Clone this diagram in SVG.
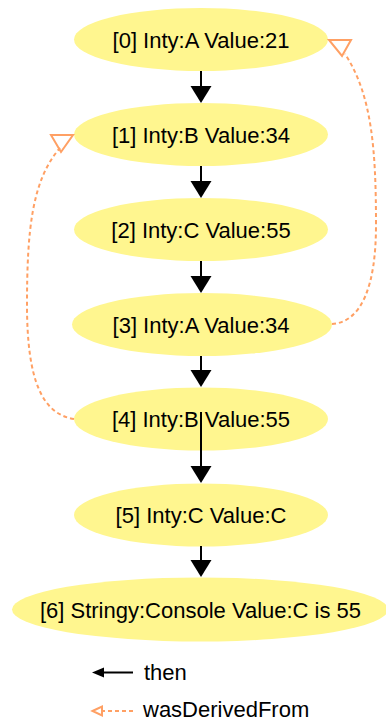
<svg xmlns="http://www.w3.org/2000/svg" width="386" height="721" viewBox="0 0 386 721">
  <style>
    .node ellipse { fill: #fff68f; stroke: none; }
    .node text { font-family: "Liberation Sans", Arial, sans-serif; font-size: 22px; fill: #000; text-anchor: middle; }
    .then { stroke: #000; stroke-width: 2; fill: none; }
    .derived { stroke: #ffa064; stroke-width: 2; stroke-dasharray: 4 3; fill: none; }
    .open-head { stroke: #ffa064; stroke-width: 2; fill: none; stroke-linejoin: miter; }
    .legend text { font-family: "Liberation Sans", Arial, sans-serif; font-size: 22px; fill: #000; }
  </style>
  <defs>
    <marker id="solid" markerUnits="userSpaceOnUse" markerWidth="18" markerHeight="22" refX="0" refY="10.5" orient="auto" overflow="visible">
      <path d="M0,0 L17,10.5 L0,21 Z" fill="#000"/>
    </marker>
  </defs>

  <rect width="386" height="721" fill="#fff"/>

  <!-- nodes -->
  <g id="n0" class="node">
    <ellipse cx="201" cy="39.5" rx="127" ry="31.5"/>
    <text x="201" y="47.5">[0] Inty:A Value:21</text>
  </g>
  <g id="n1" class="node">
    <ellipse cx="201" cy="134.5" rx="127" ry="31.5"/>
    <text x="201" y="142.5">[1] Inty:B Value:34</text>
  </g>
  <g id="n2" class="node">
    <ellipse cx="201" cy="229.5" rx="127" ry="31.5"/>
    <text x="201" y="237.5">[2] Inty:C Value:55</text>
  </g>
  <g id="n3" class="node">
    <ellipse cx="202" cy="324.5" rx="130" ry="31.5"/>
    <text x="201" y="332.5">[3] Inty:A Value:34</text>
  </g>
  <g id="n4" class="node">
    <ellipse cx="201" cy="419" rx="127" ry="31.5"/>
    <text x="201" y="427">[4] Inty:B Value:55</text>
  </g>
  <g id="n5" class="node">
    <ellipse cx="201" cy="515" rx="127" ry="31.5"/>
    <text x="201" y="523">[5] Inty:C Value:C</text>
  </g>
  <g id="n6" class="node">
    <ellipse cx="200" cy="609.5" rx="188" ry="32"/>
    <text x="200.5" y="617.5">[6] Stringy:Console Value:C is 55</text>
  </g>

  <!-- connectors -->
  <g id="edges">
    <line class="then" x1="201" y1="71" x2="201" y2="86" marker-end="url(#solid)"/>
    <line class="then" x1="201" y1="166" x2="201" y2="181" marker-end="url(#solid)"/>
    <line class="then" x1="201" y1="261" x2="201" y2="276" marker-end="url(#solid)"/>
    <line class="then" x1="201" y1="356" x2="201" y2="370" marker-end="url(#solid)"/>
    <line class="then" x1="201" y1="412" x2="201" y2="466" marker-end="url(#solid)"/>
    <line class="then" x1="201" y1="546" x2="201" y2="560" marker-end="url(#solid)"/>

    <!-- [3] wasDerivedFrom [0] -->
    <path class="derived" d="M332,324 C362,322 376,285 376,225 C376,150 372,95 345,54"/>
    <polygon class="open-head" points="329,40 351,40 342,56"/>

    <!-- [4] wasDerivedFrom [1] -->
    <path class="derived" d="M74,419 C42,414 27,380 27,305 C27,230 32,180 60,148"/>
    <polygon class="open-head" points="51,135 73,135 61,152"/>
  </g>

  <!-- legend -->
  <g id="legend" class="legend">
    <line x1="102" y1="672.5" x2="133" y2="672.5" stroke="#000" stroke-width="2"/>
    <polygon points="92,672.5 104,667.5 104,677.5" fill="#000"/>
    <text x="144" y="680">then</text>

    <line x1="101" y1="711" x2="135" y2="711" class="derived" stroke-dasharray="4 2.5"/>
    <polygon class="open-head" points="92.5,711 102,706.5 102,715.5" stroke-width="1.5"/>
    <text x="143" y="717">wasDerivedFrom</text>
  </g>
</svg>
